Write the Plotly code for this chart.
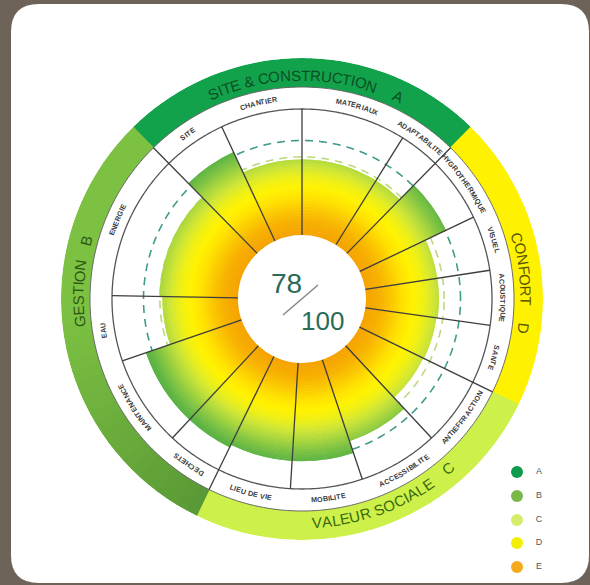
import numpy as np
import plotly.graph_objects as go

W, H = 590, 585

# ---------------- data ----------------
grades = ["A", "B", "C", "D", "E"]
grade_colors = ["#0f9a4e", "#7ab648", "#d3ec6a", "#f4ee00", "#f4aa1c"]

cat_codes = ["A", "D", "C", "B"]
cat_titles = ["SITE & CONSTRUCTION", "CONFORT", "VALEUR SOCIALE", "GESTION"]
cat_colors = ["#13a24c", "#fff200", "#cdf04a", "#7cc142"]
cat_colors_start = ["#13a24c", "#fff200", "#cdf04a", "#5a9a36"]
cat_text_colors = ["#0b4f22", "#5a5600", "#3a680c", "#2c5a12"]

sub_labels = ["SITE", "CHANTIER", "MATERIAUX", "ADAPTABILITE",
              "HYGROTHERMIQUE", "VISUEL", "ACOUSTIQUE", "SANTE",
              "ANTIEFFRACTION", "ACCESSIBILITE", "MOBILITE", "LIEU DE VIE",
              "DECHETS", "MAINTENANCE", "EAU", "ENERGIE"]
sub_category = ["A", "A", "A", "A", "D", "D", "D", "D",
                "C", "C", "C", "C", "B", "B", "B", "B"]
sub_weights = [19.5, 25, 32, 12.5, 20, 16.8, 16.7, 18,
               21, 24.5, 22, 22.5, 17, 28, 20, 44.5]
sub_scores = [78, 60, 60, 60, 76, 58, 58, 57,
              56, 68, 78, 78, 80, 80, 60, 62]
target_scores = [62, 75]
total_score = 78
total_max = 100

# ---------------- geometry / style ----------------
CX, CY = 302, 299
R_OUT = 241
R_BAND = 212
R_GRID = 190
R_HOLE = 64
PX_PER_PT = (R_GRID - R_HOLE) / 100.0
START = 134.5
FONT = "Liberation Sans, Arial, sans-serif"
BG = "#6e6359"

grad_stops_r = [64, 78, 90, 101, 112, 122, 132, 142, 152, 162, 180]
grad_stops_c = ["#f5a200", "#f7b000", "#fbc800", "#ffe200", "#fff200", "#eef016",
                "#cfe636", "#a9d63e", "#80c443", "#5db444", "#4aa83e"]


def hex2rgb(h):
    h = h.lstrip("#")
    return [int(h[i:i + 2], 16) for i in (0, 2, 4)]


grad_rgb = np.array([hex2rgb(c) for c in grad_stops_c], dtype=float)


def grad(r):
    vals = [int(round(np.interp(r, grad_stops_r, grad_rgb[:, k]))) for k in range(3)]
    return "rgb(%d,%d,%d)" % tuple(vals)


def mix(c1, c2, t):
    a, b = np.array(hex2rgb(c1), float), np.array(hex2rgb(c2), float)
    v = np.round(a + (b - a) * t).astype(int)
    return "rgb(%d,%d,%d)" % tuple(v)


n = len(sub_labels)
bounds = [START]
for w in sub_weights:
    bounds.append(bounds[-1] - w)
centers = [bounds[i] - sub_weights[i] / 2 for i in range(n)]

polar_domain = dict(x=[(CX - R_OUT) / W, (CX + R_OUT) / W],
                    y=[1 - (CY + R_OUT) / H, 1 - (CY - R_OUT) / H])


def polar_cfg():
    return dict(domain=polar_domain, bgcolor="rgba(0,0,0,0)", hole=0,
                radialaxis=dict(range=[0, R_OUT], visible=False, showgrid=False,
                                showline=False, showticklabels=False, ticks=""),
                angularaxis=dict(visible=False, rotation=0, direction="counterclockwise",
                                 showgrid=False, showline=False, showticklabels=False, ticks=""))


fig = go.Figure()

# legend (pixel space)
leg_y = [472, 496, 520, 543, 567]
fig.add_trace(go.Scatter(x=[517] * len(grades), y=leg_y, mode="markers",
                         marker=dict(size=12, color=grade_colors, line=dict(width=0)),
                         hoverinfo="skip", showlegend=False))
fig.add_trace(go.Scatter(x=[539] * len(grades), y=leg_y, mode="text", text=grades,
                         textfont=dict(size=9, color="#555555", family=FONT),
                         hoverinfo="skip", showlegend=False))

# target dashed circles (under the fills)
ring_theta = np.linspace(0, 360, 721)
for t, col in zip(target_scores, ["#bcd97e", "#3f9b8c"]):
    fig.add_trace(go.Scatterpolar(r=[R_HOLE + t * PX_PER_PT] * len(ring_theta), theta=ring_theta,
                                  mode="lines", line=dict(color=col, width=1.6, dash="8px,6px"),
                                  subplot="polar", hoverinfo="skip", showlegend=False))

# category band (sliced so a category can shade along its arc)
b_theta, b_width, b_color = [], [], []
for code, c_main, c_start in zip(cat_codes, cat_colors, cat_colors_start):
    idx = [i for i in range(n) if sub_category[i] == code]
    hi = bounds[idx[0]]
    lo = bounds[idx[-1] + 1]
    k = 40
    edges = np.linspace(hi, lo, k + 1)
    for j in range(k):
        t = 1 - j / (k - 1)
        t = max(0.0, (t - 0.45) / 0.55)
        b_theta.append((edges[j] + edges[j + 1]) / 2)
        b_width.append((hi - lo) / k + 0.3)
        b_color.append(mix(c_main, c_start, t))
fig.add_trace(go.Barpolar(r=[R_OUT - R_BAND] * len(b_theta), base=[R_BAND] * len(b_theta),
                          theta=b_theta, width=b_width,
                          marker=dict(color=b_color, line=dict(width=0)),
                          subplot="polar2", hoverinfo="skip", showlegend=False))

# gradient fills per sub-criterion
STEP = 1.5
f_theta, f_width, f_base, f_len, f_col = [], [], [], [], []
for i in range(n):
    r_end = R_HOLE + sub_scores[i] * PX_PER_PT
    r = R_HOLE
    while r < r_end - 1e-6:
        ln = min(STEP, r_end - r)
        f_theta.append(centers[i])
        f_width.append(sub_weights[i])
        f_base.append(r)
        f_len.append(ln + (0.6 if r + ln < r_end - 1e-6 else 0))
        f_col.append(grad(r + ln / 2))
        r += STEP
fig.add_trace(go.Barpolar(r=f_len, base=f_base, theta=f_theta, width=f_width,
                          marker=dict(color=f_col, line=dict(width=0)),
                          subplot="polar2", hoverinfo="skip", showlegend=False))

# circles and radial separators
for rr, col, lw in [(R_GRID, "#555555", 1.3), (R_BAND, "#666666", 1.0)]:
    fig.add_trace(go.Scatterpolar(r=[rr] * len(ring_theta), theta=ring_theta, mode="lines",
                                  line=dict(color=col, width=lw), subplot="polar3",
                                  hoverinfo="skip", showlegend=False))
lr, lt = [], []
for i in range(n):
    b = bounds[i]
    is_cat_edge = sub_category[i] != sub_category[i - 1]
    lr += [R_HOLE, R_BAND if is_cat_edge else R_GRID, None]
    lt += [b, b, None]
fig.add_trace(go.Scatterpolar(r=lr, theta=lt, mode="lines",
                              line=dict(color="#3d3d3d", width=1.3), subplot="polar3",
                              hoverinfo="skip", showlegend=False))

# ---- arc text ----
AW = dict(zip("ABCDEFGHIJKLMNOPQRSTUVWXYZ &",
              [667, 667, 722, 722, 667, 611, 778, 722, 278, 500, 667, 556, 833, 722, 778, 667,
               778, 722, 667, 611, 722, 667, 944, 667, 667, 611, 278, 667]))
AWB = dict(zip("ABCDEFGHIJKLMNOPQRSTUVWXYZ &",
               [722, 722, 722, 722, 667, 611, 778, 722, 278, 556, 722, 611, 833, 722, 778, 667,
                778, 722, 667, 611, 722, 667, 944, 667, 667, 611, 278, 722]))

annotations = []


def norm(a):
    while a > 180:
        a -= 360
    while a <= -180:
        a += 360
    return a


def arc_text(txt, r, center_deg, size, color, bold=False, outward=True, spacing=0.0):
    table = AWB if bold else AW
    widths = [table.get(c, 600) * size / 1000.0 + spacing for c in txt]
    L = sum(widths)
    ang = np.degrees(L / r)
    if outward:
        start, d = center_deg + ang / 2, -1
    else:
        start, d = center_deg - ang / 2, 1
    cum = 0.0
    for c, wc in zip(txt, widths):
        th = start + d * np.degrees((cum + wc / 2) / r)
        cum += wc
        if c == " ":
            continue
        x = CX + r * np.cos(np.radians(th))
        y = CY - r * np.sin(np.radians(th))
        ta = norm(90 - th) if outward else norm(-90 - th)
        annotations.append(dict(x=x, y=y, xref="x", yref="y", showarrow=False,
                                text=("<b>%s</b>" % c) if bold else c, textangle=ta,
                                xanchor="center", yanchor="middle",
                                font=dict(size=size, color=color, family=FONT)))


cat_title_pos = {"A": (92.5, 64.5, True), "D": (7.7, -7.7, True),
                 "C": (-71.0, -49.3, False), "B": (178.5, 165.0, True)}
for code, title, tcol in zip(cat_codes, cat_titles, cat_text_colors):
    c_deg, l_deg, outw = cat_title_pos[code]
    arc_text(title, 224, c_deg, 15, tcol, outward=outw)
    arc_text(code, 224, l_deg, 15, tcol, outward=outw)

label_shift = {"ADAPTABILITE": 2.0}
for i in range(n):
    outw = sub_category[i] != "C"
    arc_text(sub_labels[i], 201, centers[i] + label_shift.get(sub_labels[i], 0), 7.2,
             "#3a3a3a", bold=True, outward=outw, spacing=0.15)

annotations.append(dict(x=286, y=283, xref="x", yref="y", showarrow=False, text=str(total_score),
                        font=dict(size=28, color="#2a6b58", family=FONT),
                        xanchor="center", yanchor="middle"))
annotations.append(dict(x=322, y=321, xref="x", yref="y", showarrow=False, text=str(total_max),
                        font=dict(size=26, color="#2a6b58", family=FONT),
                        xanchor="center", yanchor="middle"))

card = ("M 39,4 L 561,4 Q 589,4 589,32 L 589,555 Q 589,583 561,583 "
        "L 39,583 Q 11,583 11,555 L 11,32 Q 11,4 39,4 Z")
shapes = [
    dict(type="path", path=card, xref="x", yref="y", fillcolor="#ffffff",
         line=dict(width=0), layer="below"),
    dict(type="line", x0=283, y0=315, x1=318, y1=285, xref="x", yref="y",
         line=dict(color="#8a8a8a", width=1.6), layer="above"),
]

fig.update_layout(
    width=W, height=H, margin=dict(l=0, r=0, t=0, b=0),
    paper_bgcolor=BG, plot_bgcolor="rgba(0,0,0,0)",
    xaxis=dict(range=[0, W], visible=False, fixedrange=True, domain=[0, 1]),
    yaxis=dict(range=[H, 0], visible=False, fixedrange=True, domain=[0, 1]),
    polar=polar_cfg(), polar2=polar_cfg(), polar3=polar_cfg(),
    showlegend=False, annotations=annotations, shapes=shapes,
)

page_fix = ("document.body.style.margin='0';document.body.style.padding='0';"
            "document.body.style.overflow='hidden';"
            "document.documentElement.style.overflow='hidden';"
            "document.body.style.background='%s';" % BG)
fig.write_html("out.html", post_script=page_fix, config={"displayModeBar": False})
